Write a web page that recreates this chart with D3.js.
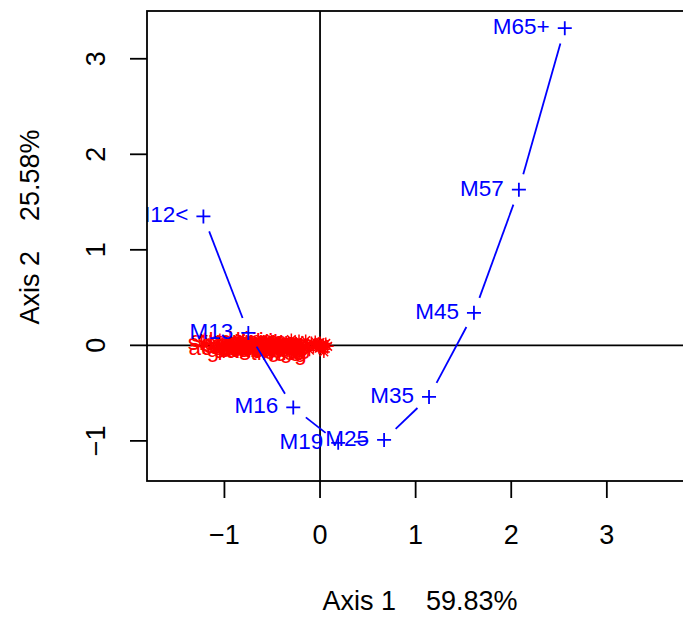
<!DOCTYPE html>
<html>
<head>
  <meta charset="utf-8">
  <title>Correspondence analysis</title>
  <style>
    body { margin: 0; background: white; }
    svg { font-family: "Liberation Sans", Arial, sans-serif; }
    .box, .zero { fill: none; stroke: black; stroke-width: 1.8; }
    .tick line { stroke: black; stroke-width: 1.8; }
    .ticklab, .title { font-size: 27px; fill: black; }
    .title { white-space: pre; font-size: 27px; }
    .rowpt { stroke: #0000ff; stroke-width: 1.8; fill: none; }
    .rowlab { fill: #0000ff; font-size: 22.5px; }
    .path { stroke: #0000ff; stroke-width: 1.8; }
    .colpt { stroke: #ff0000; stroke-width: 1.5; fill: none; }
    .collab { fill: #ff0000; font-size: 22.5px; }
  </style>
</head>
<body>
  <div id="chart"></div>
  <script src="https://d3js.org/d3.v7.min.js"></script>
  <script>
    // row points (age groups), joined in order
    var rowLabels = ["M12<", "M13", "M16", "M19", "M25", "M35", "M45", "M57", "M65+"]
    var rowX = [-1.22, -0.75, -0.28, 0.19, 0.67, 1.14, 1.61, 2.08, 2.56]
    var rowY = [1.35, 0.13, -0.65, -1.02, -0.99, -0.54, 0.34, 1.63, 3.32]

    // column points (activities), crowded round the origin
    var colLabels = ["acetone", "sleeping", "studying", "reading", "cooking", "eating",
      "talking", "walking", "writing", "shopping", "driving", "dancing", "singing",
      "painting", "washing", "cleaning", "teaching", "working", "resting", "swimming",
      "running", "playing", "gardening", "knitting", "fishing", "stirring"]
    var colX = [-0.36, -0.33, -0.30, -0.28, -0.26, -0.24, -0.22, -0.20, -0.17, -0.15,
      -0.13, -0.11, -0.09, -0.07, -0.05, -0.04, -0.02, -0.01, 0.00, 0.01,
      0.02, 0.03, 0.04, 0.06, 0.08, 0.04]
    var colY = [-0.02, 0.03, 0.06, -0.01, 0.02, -0.04, 0.05, 0.00, -0.03, 0.05,
      0.01, -0.05, 0.03, -0.02, 0.04, -0.01, 0.02, -0.03, 0.03, 0.00,
      -0.02, 0.01, -0.04, 0.02, -0.01, -0.07]

    var xTicks = [-1, 0, 1, 2, 3]
    var yTicks = [-1, 0, 1, 2, 3]
    var xTitle = "Axis 1    59.83%"
    var yTitle = "Axis 2    25.58%"

    var width = 683,
      height = 617

    var plot = { left: 147, top: 11, bottom: 481 }

    var x = d3.scaleLinear().domain([-1.81, 3.9]).range([plot.left, plot.left + 5.71 * 95.6])
    var y = d3.scaleLinear().domain([-1.42, 3.50]).range([plot.bottom, plot.top])

    var svg = d3.select("#chart").append("svg")
      .attr("width", width)
      .attr("height", height)

    svg.append("clipPath").attr("id", "clip")
      .append("rect")
      .attr("x", plot.left).attr("y", plot.top)
      .attr("width", x.range()[1] - plot.left)
      .attr("height", plot.bottom - plot.top)

    var g = svg.append("g").attr("clip-path", "url(#clip)")

    // zero lines
    g.append("line").attr("class", "zero")
      .attr("x1", x(0)).attr("x2", x(0))
      .attr("y1", plot.top).attr("y2", plot.bottom)
    g.append("line").attr("class", "zero")
      .attr("x1", plot.left).attr("x2", x.range()[1])
      .attr("y1", y(0)).attr("y2", y(0))

    // column points: stars with their labels to the left
    var cols = colLabels.map(function(d, i) {
      return { label: d, px: x(colX[i]), py: y(colY[i]) }
    })
    var star = "M-6,0H6M0,-6V6M-4.3,-4.3L4.3,4.3M-4.3,4.3L4.3,-4.3"
    g.append("g").selectAll("path")
      .data(cols).enter().append("path")
      .attr("class", "colpt")
      .attr("d", star)
      .attr("transform", function(d) { return "translate(" + d.px + "," + d.py + ")" })
    g.append("g").selectAll("text")
      .data(cols).enter().append("text")
      .attr("class", "collab")
      .attr("x", function(d) { return d.px - 17 })
      .attr("y", function(d) { return d.py })
      .attr("dy", "0.35em")
      .attr("text-anchor", "end")
      .text(function(d) { return d.label })

    // row points
    var rows = rowLabels.map(function(d, i) {
      return { label: d, px: x(rowX[i]), py: y(rowY[i]) }
    })

    // joining segments, with a gap round each point
    var gap = 16
    var segs = d3.pairs(rows).map(function(p) {
      var dx = p[1].px - p[0].px, dy = p[1].py - p[0].py
      var len = Math.sqrt(dx * dx + dy * dy)
      var ux = dx / len, uy = dy / len
      return { len: len, x1: p[0].px + ux * gap, y1: p[0].py + uy * gap,
        x2: p[1].px - ux * gap, y2: p[1].py - uy * gap }
    }).filter(function(s) { return s.len > 2 * gap })

    g.append("g").selectAll("line")
      .data(segs).enter().append("line")
      .attr("class", "path")
      .attr("x1", function(d) { return d.x1 })
      .attr("y1", function(d) { return d.y1 })
      .attr("x2", function(d) { return d.x2 })
      .attr("y2", function(d) { return d.y2 })

    g.append("g").selectAll("path")
      .data(rows).enter().append("path")
      .attr("class", "rowpt")
      .attr("d", "M-7,0H7M0,-7V7")
      .attr("transform", function(d) { return "translate(" + d.px + "," + d.py + ")" })

    g.append("g").selectAll("text")
      .data(rows).enter().append("text")
      .attr("class", "rowlab")
      .attr("x", function(d) { return d.px - 15 })
      .attr("y", function(d) { return d.py - 2 })
      .attr("dy", "0.35em")
      .attr("text-anchor", "end")
      .text(function(d) { return d.label })

    // frame
    svg.append("rect").attr("class", "box")
      .attr("x", plot.left).attr("y", plot.top)
      .attr("width", x.range()[1] - plot.left)
      .attr("height", plot.bottom - plot.top)

    // bottom axis
    var bx = svg.append("g").selectAll("g")
      .data(xTicks).enter().append("g").attr("class", "tick")
    bx.append("line")
      .attr("x1", function(d) { return x(d) }).attr("x2", function(d) { return x(d) })
      .attr("y1", plot.bottom).attr("y2", plot.bottom + 17)
    bx.append("text").attr("class", "ticklab")
      .attr("x", function(d) { return x(d) })
      .attr("y", 535).attr("dy", "0.35em")
      .attr("text-anchor", "middle")
      .text(function(d) { return d < 0 ? "\u2212" + Math.abs(d) : d })

    // left axis
    var ly = svg.append("g").selectAll("g")
      .data(yTicks).enter().append("g").attr("class", "tick")
    ly.append("line")
      .attr("x1", plot.left).attr("x2", plot.left - 17)
      .attr("y1", function(d) { return y(d) }).attr("y2", function(d) { return y(d) })
    ly.append("text").attr("class", "ticklab")
      .attr("transform", function(d) { return "translate(96," + y(d) + ") rotate(-90)" })
      .attr("dy", "0.35em")
      .attr("text-anchor", "middle")
      .text(function(d) { return d < 0 ? "\u2212" + Math.abs(d) : d })

    // titles
    svg.append("text").attr("class", "title")
      .attr("x", 420).attr("y", 601).attr("dy", "0.35em")
      .attr("text-anchor", "middle")
      .text(xTitle)
    svg.append("text").attr("class", "title")
      .attr("transform", "translate(30,227) rotate(-90)")
      .attr("dy", "0.35em")
      .attr("text-anchor", "middle")
      .text(yTitle)
  </script>
</body>
</html>
